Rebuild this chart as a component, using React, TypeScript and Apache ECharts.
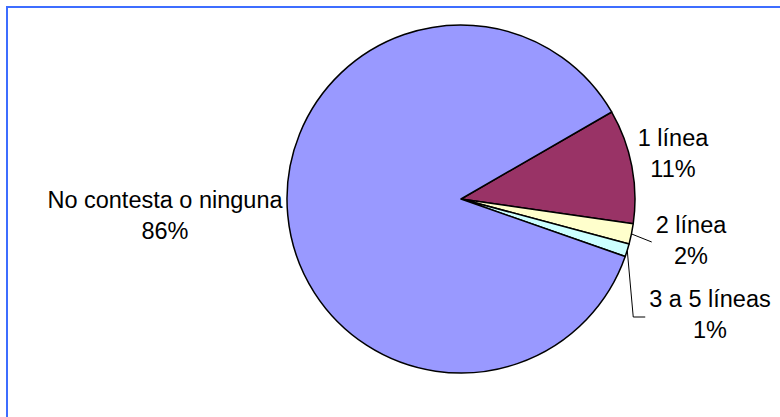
import React, { useEffect, useRef } from "react";
import * as echarts from "echarts";

const categories = ["1 línea", "2 línea", "3 a 5 líneas", "No contesta o ninguna"];
const values = [10.6, 1.9, 1.2, 86.3];
const colors = ["#993366", "#FFFFCC", "#CCFFFF", "#9999FF"];
const showLeader = [false, true, true, false];

// label block centres (layout only)
const labelPos: [number, number][] = [
  [673, 153],
  [691, 240],
  [710, 314],
  [165, 215],
];

export default function App() {
  const ref = useRef<HTMLDivElement>(null);
  useEffect(() => {
    if (!ref.current) return;
    const chart = echarts.init(ref.current, undefined, { renderer: "svg" });
    chart.setOption({
      animation: false,
      backgroundColor: "#ffffff",
      graphic: [
        {
          type: "rect",
          shape: { x: 7, y: 7, width: 820, height: 460 },
          style: { fill: "none", stroke: "#3d6dff", lineWidth: 2 },
          silent: true,
        },
      ],
      series: [
        {
          type: "pie",
          center: [461, 199],
          radius: 174,
          startAngle: 30,
          clockwise: true,
          percentPrecision: 0,
          itemStyle: { borderColor: "#000000", borderWidth: 1.5 },
          label: {
            show: true,
            position: "outside",
            alignTo: "none",
            overflow: "none",
            edgeDistance: 0,
            formatter: "{b}\n{d}%",
            fontFamily: "Liberation Sans, Arial, sans-serif",
            fontSize: 23.5,
            lineHeight: 31,
            color: "#000000",
          },
          labelLine: {
            show: true,
            lineStyle: { color: "#000000", width: 1 },
          },
          labelLayout: (params: any) => {
            const i = params.dataIndex;
            const [x, y] = labelPos[i];
            const rect = params.labelRect;
            const left = x - rect.width / 2;
            const start = params.labelLinePoints ? params.labelLinePoints[0] : [x, y];
            let pts: number[][];
            if (i === 2) {
              const firstLineY = y + 3;
              pts = [start, [left - 16, firstLineY], [left - 4, firstLineY]];
            } else {
              const end = [left - 4, y + 2];
              pts = [start, end, end];
            }
            return {
              x,
              y,
              align: "center",
              verticalAlign: "middle",
              labelLinePoints: pts,
            };
          },
          data: categories.map((name, i) => ({
            name,
            value: values[i],
            itemStyle: { color: colors[i] },
            labelLine: { show: showLeader[i] },
          })),
        },
      ],
    });
    return () => chart.dispose();
  }, []);
  return (
    <div
      ref={ref}
      style={{ position: "fixed", left: 0, top: 0, width: 780, height: 417 }}
    />
  );
}
